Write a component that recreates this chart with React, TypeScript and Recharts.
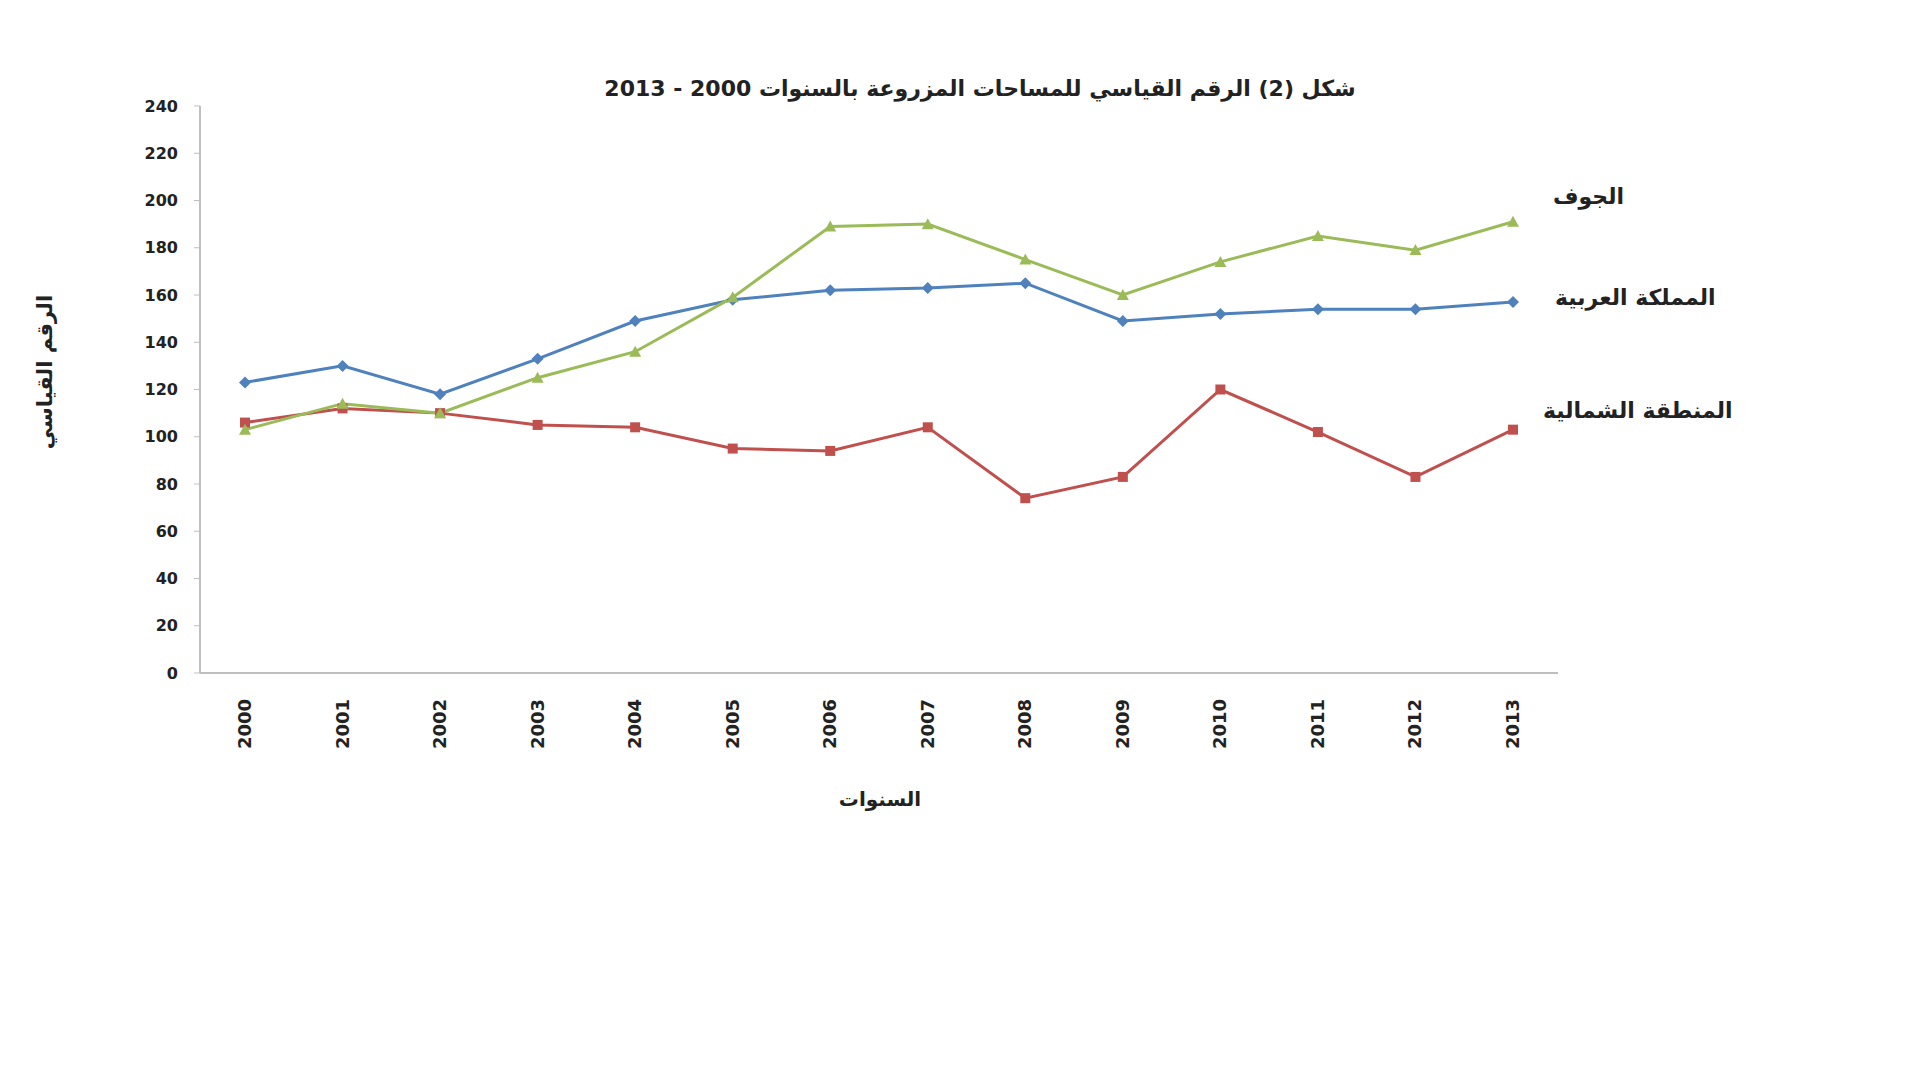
import React from 'react';
import { LineChart, Line, XAxis, YAxis } from 'recharts';

const years = ['2000', '2001', '2002', '2003', '2004', '2005', '2006', '2007', '2008', '2009', '2010', '2011', '2012', '2013'];
const kingdom = [123, 130, 118, 133, 149, 158, 162, 163, 165, 149, 152, 154, 154, 157];
const northern = [106, 112, 110, 105, 104, 95, 94, 104, 74, 83, 120, 102, 83, 103];
const jouf = [103, 114, 110, 125, 136, 159, 189, 190, 175, 160, 174, 185, 179, 191];
const seriesNames = ['المملكة العربية', 'المنطقة الشمالية', 'الجوف'];
const yTicks = [0, 20, 40, 60, 80, 100, 120, 140, 160, 180, 200, 220, 240];

const chartData = years.map((year, i) => ({
  year,
  kingdom: kingdom[i],
  northern: northern[i],
  jouf: jouf[i],
}));

const last = years.length - 1;
const arabicFont = '"DejaVu Sans", "Liberation Sans", sans-serif';

const Diamond = ({ cx, cy, fill }: any) => (
  <polygon points={`${cx},${cy - 6} ${cx + 6},${cy} ${cx},${cy + 6} ${cx - 6},${cy}`} fill={fill} />
);
const Square = ({ cx, cy, fill }: any) => <rect x={cx - 5} y={cy - 5} width={10} height={10} fill={fill} />;
const Triangle = ({ cx, cy, fill }: any) => (
  <polygon points={`${cx},${cy - 6} ${cx + 6},${cy + 5} ${cx - 6},${cy + 5}`} fill={fill} />
);

const endLabel = (name: string, dx: number, dy: number) => (props: any) => {
  if (props.index !== last) return null;
  return (
    <text
      x={props.x + dx}
      y={props.y + dy}
      textAnchor="start"
      dominantBaseline="middle"
      fontFamily={arabicFont}
      fontSize={22}
      fontWeight="bold"
      fill="#222"
    >
      {name}
    </text>
  );
};

const YearTick = ({ x, y, payload }: any) => (
  <g transform={`translate(${x},${y})`}>
    <text transform="rotate(-90)" x={-18} y={0} dy={6} textAnchor="end" fontSize={18} fontWeight="bold" fill="#222" fontFamily={arabicFont}>
      {payload.value}
    </text>
  </g>
);

export default function App() {
  return (
    <div style={{ position: 'absolute', left: 0, top: 0, width: 1920, height: 1080, background: '#fff' }}>
      <div
        dir="rtl"
        style={{
          position: 'absolute', left: 500, width: 960, top: 76, textAlign: 'center',
          fontFamily: arabicFont, fontSize: 22, fontWeight: 'bold', color: '#222',
        }}
      >
        شكل (2) الرقم القياسي للمساحات المزروعة بالسنوات 2000 - 2013
      </div>
      <div
        dir="rtl"
        style={{
          position: 'absolute', left: -55, top: 360, width: 200, textAlign: 'center',
          transform: 'rotate(-90deg)', fontFamily: arabicFont, fontSize: 21, fontWeight: 'bold', color: '#222',
        }}
      >
        الرقم القياسي
      </div>
      <div
        dir="rtl"
        style={{
          position: 'absolute', left: 810, top: 787, width: 140, textAlign: 'center',
          fontFamily: arabicFont, fontSize: 20, fontWeight: 'bold', color: '#222',
        }}
      >
        السنوات
      </div>
      <LineChart width={1920} height={1080} data={chartData} margin={{ top: 106, right: 362, bottom: 307, left: 138 }}>
        <XAxis
          dataKey="year"
          height={100}
          padding={{ left: 45, right: 45 }}
          axisLine={{ stroke: '#BFBFBF', strokeWidth: 2 }}
          tickLine={false}
          interval={0}
          tick={<YearTick />}
        />
        <YAxis
          width={62}
          domain={[0, 240]}
          ticks={yTicks}
          interval={0}
          axisLine={{ stroke: '#BFBFBF', strokeWidth: 2 }}
          tickLine={{ stroke: '#BFBFBF' }}
          tickSize={6}
          tickMargin={16}
          tick={{ fontSize: 16, fontWeight: 'bold', fill: '#222', fontFamily: arabicFont }}
        />
        <Line
          dataKey="kingdom"
          stroke="#4F81BD"
          strokeWidth={3}
          dot={<Diamond fill="#4F81BD" />}
          activeDot={false}
          isAnimationActive={false}
          label={endLabel(seriesNames[0], 42, -3)}
        />
        <Line
          dataKey="northern"
          stroke="#C0504D"
          strokeWidth={3}
          dot={<Square fill="#C0504D" />}
          activeDot={false}
          isAnimationActive={false}
          label={endLabel(seriesNames[1], 30, -18)}
        />
        <Line
          dataKey="jouf"
          stroke="#9BBB59"
          strokeWidth={3}
          dot={<Triangle fill="#9BBB59" />}
          activeDot={false}
          isAnimationActive={false}
          label={endLabel(seriesNames[2], 40, -24)}
        />
      </LineChart>
    </div>
  );
}
